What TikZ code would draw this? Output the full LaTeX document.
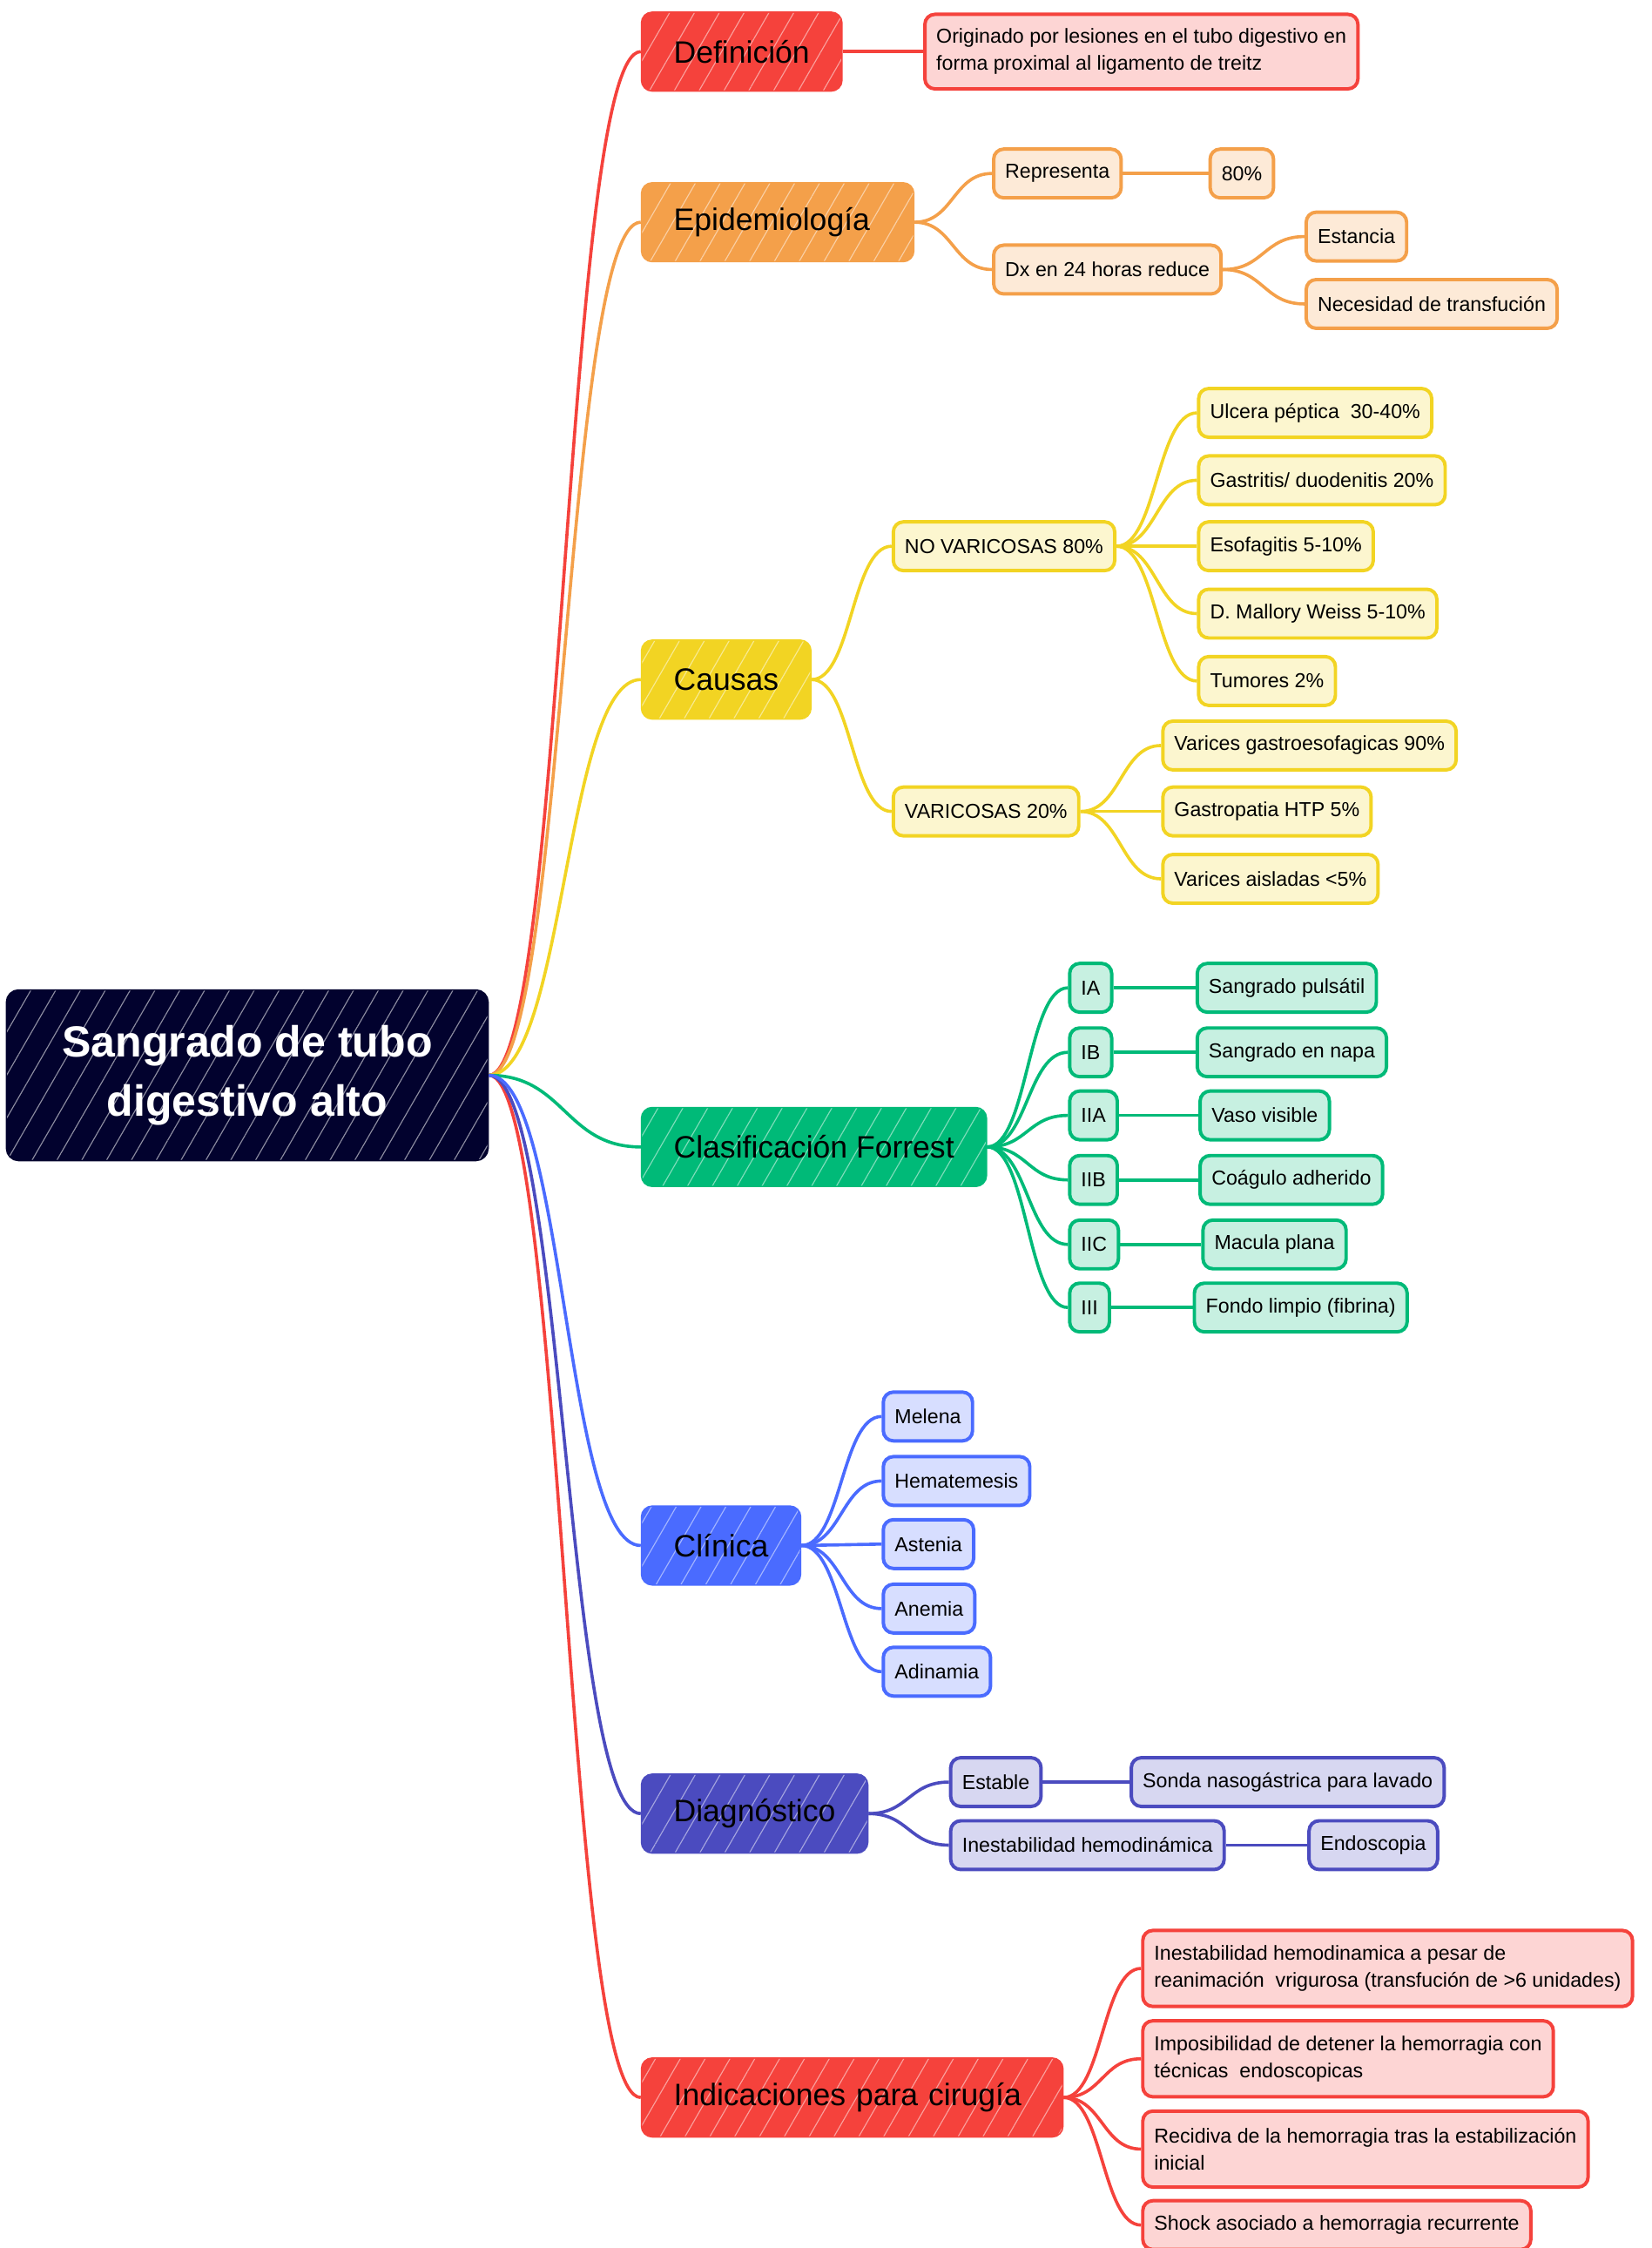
\documentclass[tikz,border=0pt]{standalone}
\usepackage{fontspec}
\setmainfont{Liberation Sans}
\usetikzlibrary{calc,patterns.meta}
\definecolor{raizc}{HTML}{02022E}
\definecolor{rojo}{HTML}{F5423C}
\definecolor{naranja}{HTML}{F4A04A}
\definecolor{amarillo}{HTML}{F2D423}
\definecolor{verde}{HTML}{00BA78}
\definecolor{azul}{HTML}{4A6BFF}
\definecolor{indigo}{HTML}{4B4BBF}
\tikzset{
  raiz/.style={draw=raizc,fill=raizc,rounded corners=8pt,line width=2pt,text=white,
    font=\fontsize{30.4}{41}\selectfont\bfseries,align=center,minimum width=335pt,minimum height=118pt,
    postaction={pattern={Lines[angle=60,distance=15pt,line width=0.7pt]},pattern color=white!55!raizc}},
  rama/.style={draw=#1,fill=#1,rounded corners=7pt,line width=2pt,anchor=west,
    font=\fontsize{21.6}{26}\selectfont,minimum height=54pt,inner xsep=22pt,
    postaction={pattern={Lines[angle=60,distance=15pt,line width=0.7pt]},pattern color=white!50!#1}},
  hoja/.style={draw=#1,fill=#1!22,rounded corners=7pt,line width=2.4pt,anchor=west,align=left,
    font=\fontsize{14.1}{19}\selectfont,minimum height=34pt,inner xsep=8pt},
}
% curva de padre (east) a hijo (west)
\newcommand\liga[3]{\draw[line width=2.2pt,draw=#1] let \p1=(#2.east),\p2=(#3.west),\n1={(\x2-\x1)/2} in
  (\p1) .. controls +(\n1,0) and +(-\n1,0) .. (\p2);}
\begin{document}
\begin{tikzpicture}[x=1pt,y=-1pt]
\useasboundingbox (0,0) rectangle (1152,1568);
\node[raiz] (raiz) at (172.5,750) {Sangrado de tubo\\digestivo alto};

\node[rama=rojo] (def) at (447,36) {Definición};
\node[rama=naranja,text width=145pt,align=left] (epi) at (447,155) {Epidemiología};
\node[rama=amarillo] (cau) at (447,474) {Causas};
\node[rama=verde] (forr) at (447,800) {Clasificación Forrest};
\node[rama=azul] (cli) at (447,1078) {Clínica};
\node[rama=indigo] (dia) at (447,1265) {Diagnóstico};
\node[rama=rojo,text width=249pt,align=left] (ind) at (447,1463) {Indicaciones para cirugía};
\foreach \r/\c in {def/rojo,epi/naranja,cau/amarillo,forr/verde,ind/rojo,dia/indigo,cli/azul}
  \liga{\c}{raiz}{\r};

% definicion
\node[hoja=rojo,minimum height=52pt] (defa) at (644,36) {Originado por lesiones en el tubo digestivo en\\forma proximal al ligamento de treitz};
\liga{rojo}{def}{defa}

% epidemiologia
\node[hoja=naranja] (rep) at (692,121) {Representa};
\node[hoja=naranja] (och) at (843,121) {80\%};
\node[hoja=naranja] (dx) at (692,188) {Dx en 24 horas reduce};
\node[hoja=naranja] (est) at (910,165) {Estancia};
\node[hoja=naranja] (nec) at (910,212) {Necesidad de transfución};
\liga{naranja}{epi}{rep}
\liga{naranja}{epi}{dx}
\liga{naranja}{rep}{och}
\liga{naranja}{dx}{est}
\liga{naranja}{dx}{nec}

% causas
\node[hoja=amarillo] (nova) at (622,381) {NO VARICOSAS 80\%};
\node[hoja=amarillo] (vari) at (622,566) {VARICOSAS 20\%};
\node[hoja=amarillo] (ulc) at (835,288) {Ulcera péptica~ 30-40\%};
\node[hoja=amarillo] (gas) at (835,335) {Gastritis/ duodenitis 20\%};
\node[hoja=amarillo] (eso) at (835,381) {Esofagitis 5-10\%};
\node[hoja=amarillo] (mal) at (835,428) {D. Mallory Weiss 5-10\%};
\node[hoja=amarillo] (tum) at (835,475) {Tumores 2\%};
\node[hoja=amarillo] (vgas) at (810,520) {Varices gastroesofagicas 90\%};
\node[hoja=amarillo] (ghtp) at (810,566) {Gastropatia HTP 5\%};
\node[hoja=amarillo] (vais) at (810,613) {Varices aisladas <5\%};
\liga{amarillo}{cau}{nova}
\liga{amarillo}{cau}{vari}
\foreach \h in {ulc,gas,eso,mal,tum} \liga{amarillo}{nova}{\h};
\foreach \h in {vgas,ghtp,vais} \liga{amarillo}{vari}{\h};

% forrest
\foreach \k/\y/\g/\xt/\t in {a/689/IA/834/Sangrado pulsátil,b/734/IB/834/Sangrado en napa,
    c/778/IIA/836/Vaso visible,d/823/IIB/836/Coágulo adherido,e/868/IIC/838/Macula plana,
    f/912/III/832/Fondo limpio (fibrina)}{
  \node[hoja=verde] (f\k) at (745,\y) {\g};
  \node[hoja=verde] (t\k) at (\xt,\y) {\t};
  \liga{verde}{forr}{f\k}
  \liga{verde}{f\k}{t\k}
}

% clinica
\foreach \k/\y/\t in {mel/988/Melena,hem/1033/Hematemesis,ast/1077/Astenia,ane/1122/Anemia,adi/1166/Adinamia}{
  \node[hoja=azul] (\k) at (615,\y) {\t};
  \liga{azul}{cli}{\k}
}

% diagnostico
\node[hoja=indigo] (esta) at (662,1243) {Estable};
\node[hoja=indigo] (son) at (788,1243) {Sonda nasogástrica para lavado};
\node[hoja=indigo] (ines) at (662,1287) {Inestabilidad hemodinámica};
\node[hoja=indigo] (endo) at (912,1287) {Endoscopia};
\liga{indigo}{dia}{esta}
\liga{indigo}{dia}{ines}
\liga{indigo}{esta}{son}
\liga{indigo}{ines}{endo}

% indicaciones
\node[hoja=rojo,minimum height=53pt] (ia) at (796,1373) {Inestabilidad hemodinamica a pesar de\\reanimación~ vrigurosa (transfución de >6 unidades)};
\node[hoja=rojo,minimum height=53pt] (ib) at (796,1436) {Imposibilidad de detener la hemorragia con\\técnicas~ endoscopicas};
\node[hoja=rojo,minimum height=53pt] (ic) at (796,1499) {Recidiva de la hemorragia tras la estabilización\\inicial};
\node[hoja=rojo] (id) at (796,1552) {Shock asociado a hemorragia recurrente};
\foreach \h in {ia,ib,ic,id} \liga{rojo}{ind}{\h};
\end{tikzpicture}
\end{document}
